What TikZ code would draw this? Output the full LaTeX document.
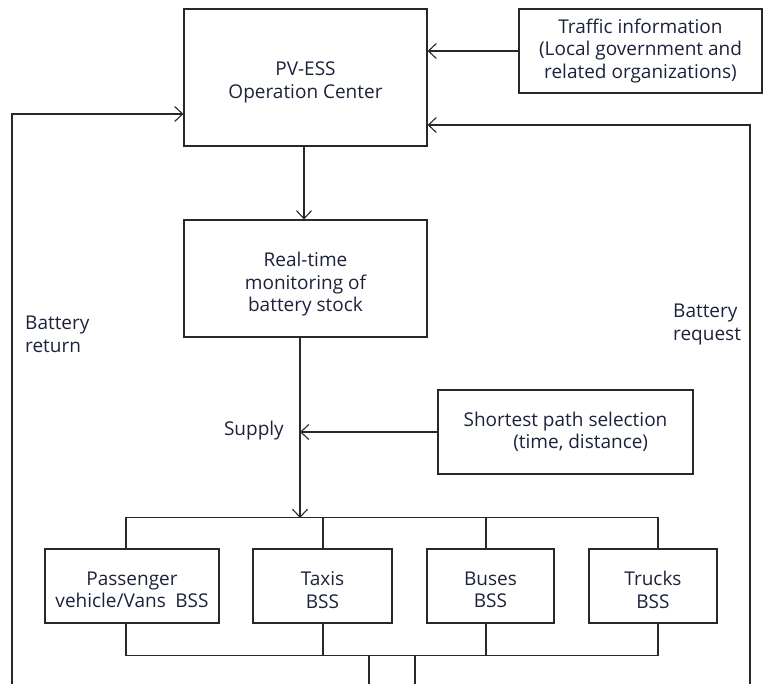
\documentclass[tikz,border=0pt]{standalone}
\usepackage{fontspec}
\setmainfont{Open Sans}
\usetikzlibrary{arrows.meta}
\definecolor{txt}{RGB}{28,34,60}
\definecolor{ln}{RGB}{40,40,40}
\begin{document}
\begin{tikzpicture}[x=1pt,y=-1pt,
  box/.style={draw=ln,line width=1.1pt,rectangle,inner sep=0pt,align=center,text=txt,font=\fontsize{19}{22.5}\selectfont},
  txtn/.style={inner sep=0pt,align=center,text=txt,font=\fontsize{19}{22.5}\selectfont},
  lbl/.style={inner sep=0pt,align=left,text=txt,font=\fontsize{19}{22.5}\selectfont},
  ln/.style={draw=ln,line width=1.1pt},
  arr/.style={ln,-{Straight Barb[length=8pt,width=15pt,line width=1.1pt]}}]
\useasboundingbox (0,0) rectangle (763,684);
\node[box,minimum width=243pt,minimum height=137pt] (pv) at (305.5,77.5) {};
\node[txtn] (pvt) at ([yshift=-5pt]pv.center) {PV-ESS\\Operation Center};
\node[box,minimum width=243pt,minimum height=84pt] (traffic) at (640.5,51) {Traffic information\\(Local government and\\related organizations)};
\node[box,minimum width=243pt,minimum height=117pt] (rt) at (305.5,278.5) {};
\node[txtn] (rtt) at ([yshift=-6pt]rt.center) {Real-time\\monitoring of\\battery stock};
\node[box,minimum width=255pt,minimum height=84pt] (sp) at (565.5,432) {Shortest path selection\\\hspace*{1.6em}(time, distance)};
\node[box,minimum width=174pt,minimum height=74pt] (pass) at (132,586) {};
\node[box,minimum width=139pt,minimum height=74pt] (taxi) at (322.5,586) {};
\node[box,minimum width=127pt,minimum height=74pt] (bus) at (490.5,586) {};
\node[box,minimum width=128pt,minimum height=74pt] (truck) at (653,586) {};
\node[txtn] (passt) at ([yshift=-4pt]pass.center) {Passenger\\vehicle/Vans\enspace BSS};
\node[txtn] (taxit) at ([yshift=-4pt]taxi.center) {Taxis\\BSS};
\node[txtn] (bust) at ([yshift=-4pt]bus.center) {Buses\\BSS};
\node[txtn] (truckt) at ([yshift=-4pt]truck.center) {Trucks\\BSS};
\node[lbl,anchor=west] (ret) at (25,334.5) {Battery\\return};
\node[lbl,anchor=west] (req) at (673,324.5) {Battery\\request};
\node[lbl,anchor=east] (sup) at (284,431) {Supply};
\coordinate (spine) at (300,518);
\coordinate (lb) at (12,684);
\coordinate (rb) at (750,684);
\coordinate (d1) at (369,655);
\coordinate (d2) at (415,655);
\coordinate (d1e) at (369,684);
\coordinate (d2e) at (415,684);
% connectors
\draw[arr] (traffic.west) -- (traffic.west -| pv.east);
\draw[arr] (rb) |- ([yshift=-47.5pt]pv.east);
\draw[arr] (lb) |- ([yshift=-36.5pt]pv.west);
\draw[arr] ([xshift=-1.5pt]pv.south) -- ([xshift=-1.5pt]rt.north);
\draw[arr] (rt.south -| spine) -- (spine);
\draw[arr] (sp.west) -- (sp.west -| spine);
% top bus
\draw[ln] ([xshift=-6pt]pass.north) -- ++(0,-31) -| ([xshift=5pt]truck.north);
\draw[ln] ([xshift=0.5pt]taxi.north) -- ++(0,-31);
\draw[ln] ([xshift=-4.5pt]bus.north) -- ++(0,-31);
% bottom bus
\draw[ln] ([xshift=-6pt]pass.south) -- ++(0,32) -| ([xshift=5pt]truck.south);
\draw[ln] ([xshift=0.5pt]taxi.south) -- ++(0,32);
\draw[ln] ([xshift=-4.5pt]bus.south) -- ++(0,32);
\draw[ln] (d1) -- (d1e);
\draw[ln] (d2) -- (d2e);
\end{tikzpicture}
\end{document}
